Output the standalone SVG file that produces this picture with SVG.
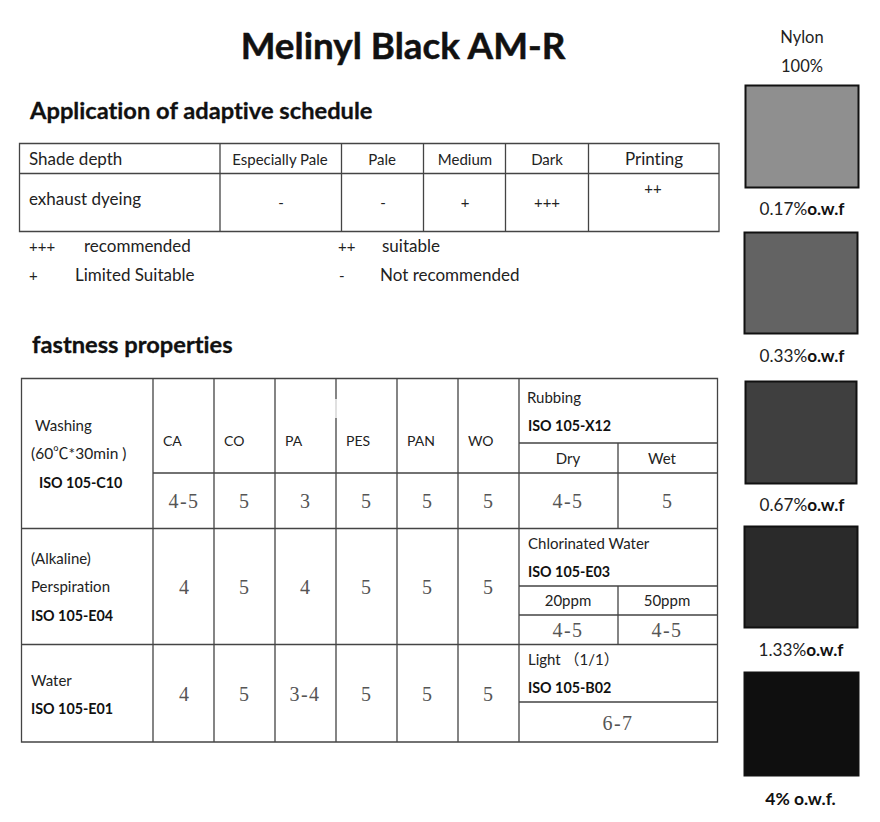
<svg xmlns="http://www.w3.org/2000/svg" width="880" height="822" viewBox="0 0 880 822">
<style>
text{font-family:"Lato","Open Sans","Liberation Sans",sans-serif;fill:#222;font-size:17px;font-variant-ligatures:none}
.c{text-anchor:middle}
.b{font-weight:700;fill:#111}
.h{font-weight:700;fill:#111;font-size:23.700px;stroke:#111;stroke-width:.3}
.s{font-size:15px}
.k{font-size:14px}
.i{font-weight:700;fill:#111;font-size:14.300px}
.n{font-family:"Liberation Serif",serif;font-size:20px;fill:#555;text-anchor:middle}
.d{letter-spacing:1.500px}
.g{stroke:#444;stroke-width:1.300;fill:none}
.sw{stroke:#111;stroke-width:2}
.o{text-anchor:middle;font-size:17.200px}
</style>
<rect width="880" height="822" fill="#fff"/>
<text id="title" x="403" y="59" class="b c" style="font-size:36.800px;stroke:#111;stroke-width:.5">Melinyl Black AM-R</text>
<text x="30" y="119" class="h">Application of adaptive schedule</text>
<text x="32" y="353" class="h">fastness properties</text>

<g id="connectors">
<path class="g" d="M19.500 143.500H719V231.500H19.500ZM19.500 173.500H719M220 143.500V231.500M341.500 143.500V231.500M423.500 143.500V231.500M505.500 143.500V231.500M588.500 143.500V231.500"/>
<path class="g" d="M21.500 378.500H717.500V742H21.500ZM21.500 528.500H717.500M21.500 644.500H717.500M153 378.500V742M214 378.500V742M275 378.500V742M336 378.500V742M397 378.500V742M458 378.500V742M519 378.500V742M153 473H717.500M519 443H717.500M618 443V528.500M519 586H717.500M519 615H717.500M618 586V644.500M519 702H717.500"/>
<rect x="334.500" y="399" width="3" height="19" fill="#fff" fill-opacity=".75"/>
</g>

<g id="schedule-table">
<text x="29" y="165">Shade depth</text>
<text x="280" y="165" class="c s">Especially Pale</text>
<text x="382" y="165" class="c s">Pale</text>
<text x="465" y="165" class="c s">Medium</text>
<text x="547" y="165" class="c s">Dark</text>
<text x="654" y="165" class="c">Printing</text>
<text x="29" y="205">exhaust dyeing</text>
<text x="281" y="208" class="c s">-</text>
<text x="383" y="208" class="c s">-</text>
<text x="465" y="208" class="c s">+</text>
<text x="547" y="208" class="c s">+++</text>
<text x="653" y="194" class="c s">++</text>
</g>

<g id="legend">
<text x="29" y="252" class="s">+++</text>
<text x="84" y="252">recommended</text>
<text x="338" y="252" class="s">++</text>
<text x="382" y="252">suitable</text>
<text x="29" y="281" class="s">+</text>
<text x="75" y="281">Limited Suitable</text>
<text x="339" y="281" class="s">-</text>
<text x="380" y="281">Not recommended</text>
</g>

<g id="fastness-table">
<text x="35" y="431" class="s">Washing</text>
<text x="31" y="459" class="s" style="font-family:'Lato','Noto Sans CJK SC',sans-serif;font-size:15.500px">(60℃*30min )</text>
<text x="39" y="488" class="i">ISO 105-C10</text>
<text x="163" y="446" class="k">CA</text>
<text x="224" y="446" class="k">CO</text>
<text x="285" y="446" class="k">PA</text>
<text x="346" y="446" class="k">PES</text>
<text x="407" y="446" class="k">PAN</text>
<text x="468" y="446" class="k">WO</text>
<text x="527" y="403" class="s">Rubbing</text>
<text x="528" y="431" class="i">ISO 105-X12</text>
<text x="568" y="464" class="c s">Dry</text>
<text x="662" y="464" class="c s">Wet</text>
<text x="184" y="508" class="n d">4-5</text><text x="244" y="508" class="n">5</text><text x="305" y="508" class="n">3</text><text x="366" y="508" class="n">5</text><text x="427" y="508" class="n">5</text><text x="488" y="508" class="n">5</text>
<text x="568" y="508" class="n d">4-5</text><text x="667" y="508" class="n">5</text>

<text x="31" y="564" class="s">(Alkaline)</text>
<text x="31" y="592" class="s">Perspiration</text>
<text x="31" y="621" class="i">ISO 105-E04</text>
<text x="184" y="594" class="n">4</text><text x="244" y="594" class="n">5</text><text x="305" y="594" class="n">4</text><text x="366" y="594" class="n">5</text><text x="427" y="594" class="n">5</text><text x="488" y="594" class="n">5</text>
<text x="528" y="549" class="s">Chlorinated Water</text>
<text x="528" y="577" class="i">ISO 105-E03</text>
<text x="568" y="606" class="c s">20ppm</text>
<text x="667" y="606" class="c s">50ppm</text>
<text x="568" y="637" class="n d">4-5</text><text x="667" y="637" class="n d">4-5</text>

<text x="31" y="686" class="s">Water</text>
<text x="31" y="714" class="i">ISO 105-E01</text>
<text x="184" y="701" class="n">4</text><text x="244" y="701" class="n">5</text><text x="305" y="701" class="n d">3-4</text><text x="366" y="701" class="n">5</text><text x="427" y="701" class="n">5</text><text x="488" y="701" class="n">5</text>
<text x="528" y="665" class="s" style="font-family:'Lato','Noto Sans CJK SC',sans-serif">Light （1/1）</text>
<text x="528" y="693" class="i">ISO 105-B02</text>
<text x="618" y="730" class="n d">6-7</text>
</g>

<g id="nylon-header">
<text x="802" y="43" class="o" style="font-size:16.500px">Nylon</text>
<text x="802" y="72" class="o" style="font-size:16.500px">100%</text>
</g>
<g id="swatch-1"><rect class="sw" x="745.500" y="85.500" width="113" height="102" fill="#8f8f8f"/><text x="802" y="215" class="o">0.17%<tspan class="b">o.w.f</tspan></text></g>
<g id="swatch-2"><rect class="sw" x="744.500" y="232.500" width="113" height="101" fill="#636363"/><text x="802" y="362" class="o">0.33%<tspan class="b">o.w.f</tspan></text></g>
<g id="swatch-3"><rect class="sw" x="745.500" y="381.500" width="111" height="102" fill="#3f3f3f"/><text x="802" y="511" class="o">0.67%<tspan class="b">o.w.f</tspan></text></g>
<g id="swatch-4"><rect class="sw" x="744.500" y="526.500" width="113" height="101" fill="#2a2a2a"/><text x="801" y="656" class="o">1.33%<tspan class="b">o.w.f</tspan></text></g>
<g id="swatch-5"><rect class="sw" x="744.500" y="672.500" width="114" height="103" fill="#0f0f0f"/><text x="800.500" y="805" class="o b" style="font-size:17.500px">4% o.w.f.</text></g>
</svg>
